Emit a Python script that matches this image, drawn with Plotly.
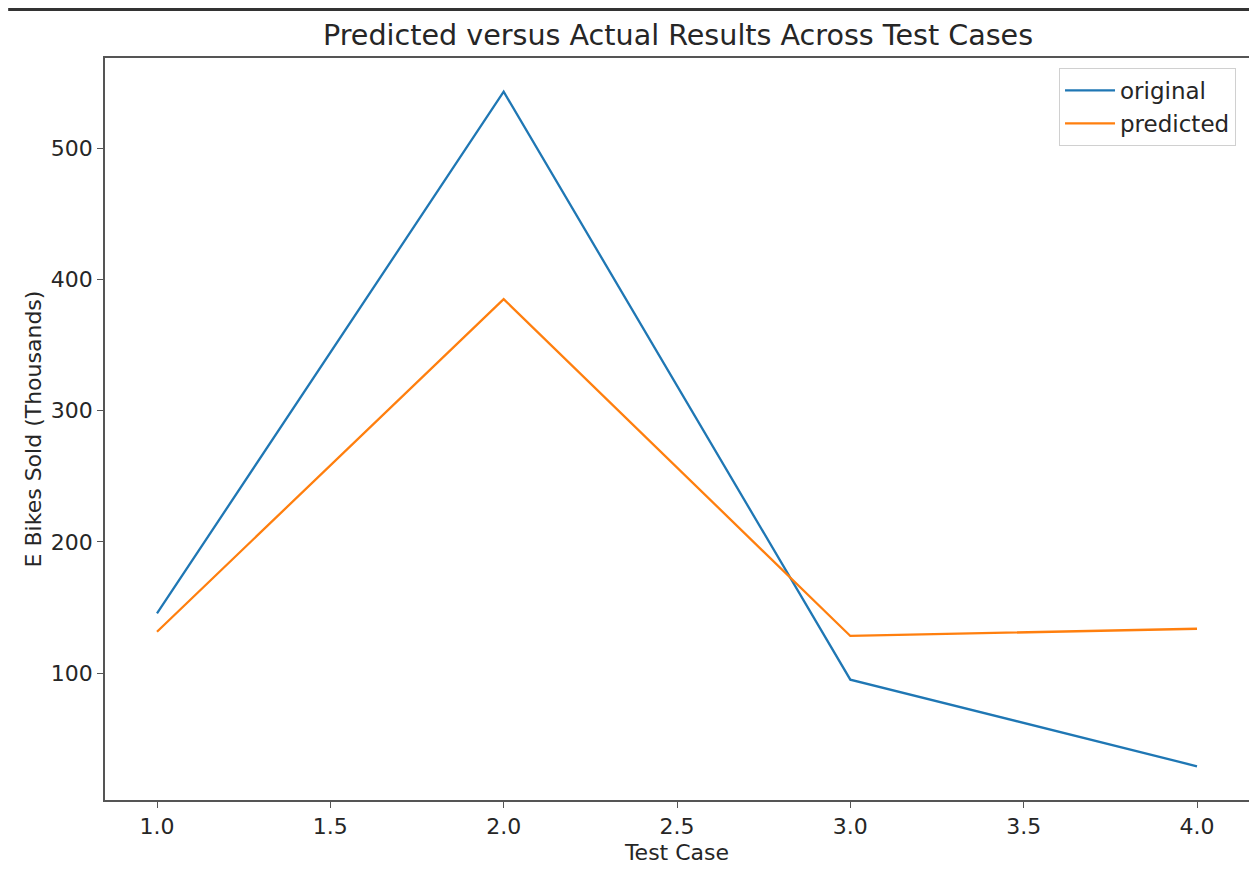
import plotly.graph_objects as go

test_case = [1, 2, 3, 4]
original = [145.5, 543, 95, 29]
predicted = [131.5, 385, 128.3, 133.8]

x_ticks = [1.0, 1.5, 2.0, 2.5, 3.0, 3.5, 4.0]
y_ticks = [100, 200, 300, 400, 500]

FONT = "DejaVu Sans"
TXT = "#262626"

W, H = 1249, 861
L, R, T, B = 97, 6, 50, 69
PW, PH = W - L - R, H - T - B

fig = go.Figure()
fig.add_trace(go.Scatter(x=test_case, y=original, mode="lines", name="original",
                         line=dict(color="#1f77b4", width=2.3)))
fig.add_trace(go.Scatter(x=test_case, y=predicted, mode="lines", name="predicted",
                         line=dict(color="#ff7f0e", width=2.3)))

lo = min(original + predicted)
hi = max(original + predicted)
pad = (hi - lo) * 0.05

axis_common = dict(showline=True, linecolor="#555555", linewidth=1.5, mirror=True,
                   ticks="outside", ticklen=6, tickwidth=1.2, tickcolor="#555555",
                   showgrid=False, zeroline=False,
                   tickfont=dict(family=FONT, size=22, color=TXT))

fig.update_layout(
    width=W, height=H,
    margin=dict(l=L, r=R, t=T, b=B),
    paper_bgcolor="white", plot_bgcolor="white",
    font=dict(family=FONT, color=TXT),
    title=dict(text="Predicted versus Actual Results Across Test Cases",
               x=(L + PW / 2) / W, xanchor="center", y=1 - 27 / H, yanchor="middle",
               font=dict(family=FONT, size=28.6, color=TXT)),
    xaxis=dict(range=[0.85, 4.15], tickvals=x_ticks, ticktext=[f"{v:.1f}" for v in x_ticks],
               title=dict(text="Test Case", font=dict(family=FONT, size=22, color=TXT), standoff=6),
               **axis_common),
    yaxis=dict(range=[lo - pad, hi + pad], tickvals=y_ticks,
               title=dict(text="E Bikes Sold (Thousands)", font=dict(family=FONT, size=22, color=TXT), standoff=3),
               **axis_common),
    legend=dict(x=(1230 - L) / PW, y=1 - (60 - T) / PH, xanchor="right", yanchor="top",
                bgcolor="rgba(255,255,255,0.8)", bordercolor="#d0d0d0", borderwidth=1,
                font=dict(family=FONT, size=23, color=TXT), itemwidth=50),
    showlegend=True,
)

fig.add_shape(type="line", xref="paper", yref="paper", x0=-L / PW, x1=1 + R / PW,
              y0=1 + (T - 1.5) / PH, y1=1 + (T - 1.5) / PH,
              line=dict(color="#333333", width=3))

fig.write_html("out.html")
